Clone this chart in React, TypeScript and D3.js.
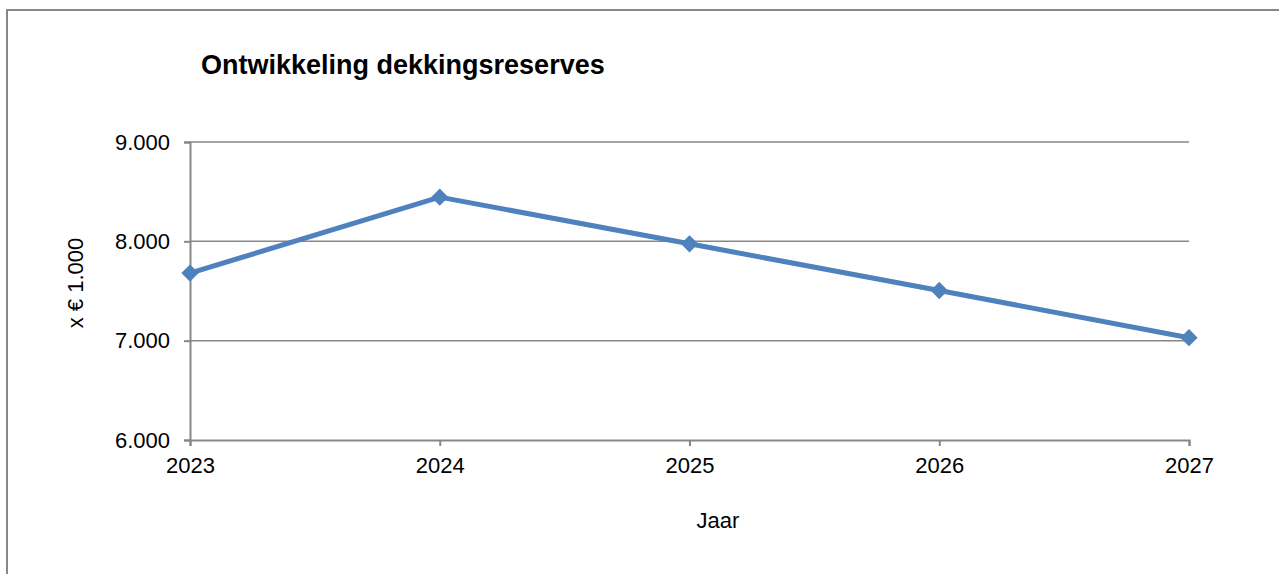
import { useEffect, useRef } from 'react'
import * as d3 from 'd3'

const years = ['2023', '2024', '2025', '2026', '2027']
const reserves = [7680, 8445, 7975, 7505, 7030]
const yTicks = [6000, 7000, 8000, 9000]

const title = 'Ontwikkeling dekkingsreserves'
const yLabel = 'x € 1.000'
const xLabel = 'Jaar'

export default function App() {
  const svgRef = useRef<SVGSVGElement>(null)

  useEffect(() => {
    if (!svgRef.current) return
    const width = 1279
    const height = 574
    const svg = d3.select(svgRef.current)
    svg.selectAll('*').remove()
    svg.attr('width', width).attr('height', height)

    const font = 'Liberation Sans, Arial, sans-serif'
    const grey = '#878787'

    // frame
    svg.append('rect')
      .attr('x', 7).attr('y', 10)
      .attr('width', 1290).attr('height', 600)
      .attr('fill', 'white')
      .attr('stroke', grey)
      .attr('stroke-width', 2)

    const x = d3.scalePoint<string>().domain(years).range([190, 1189])
    const y = d3.scaleLinear().domain([6000, 9000]).range([440, 142])

    // gridlines
    svg.append('g')
      .selectAll('line')
      .data(yTicks.slice(1))
      .enter().append('line')
      .attr('x1', 190).attr('x2', 1189)
      .attr('y1', d => y(d)).attr('y2', d => y(d))
      .attr('stroke', grey).attr('stroke-width', 1.5)

    // y axis
    const yAxis = svg.append('g')
      .attr('transform', 'translate(190,0)')
      .call(d3.axisLeft(y).tickValues(yTicks).tickSize(6).tickPadding(14)
        .tickFormat(d => d3.format(',')(d as number).replace(/,/g, '.')))
    yAxis.select('.domain').attr('stroke', grey).attr('stroke-width', 2)
    yAxis.selectAll('.tick line').attr('stroke', grey).attr('stroke-width', 2)
    yAxis.selectAll('text').attr('fill', '#000').style('font-size', '22px').style('font-family', font)

    // x axis
    const xAxis = svg.append('g')
      .attr('transform', 'translate(0,440)')
      .call(d3.axisBottom(x).tickSize(6).tickPadding(11))
    xAxis.select('.domain').attr('stroke', grey).attr('stroke-width', 2)
    xAxis.selectAll('.tick line').attr('stroke', grey).attr('stroke-width', 2)
    xAxis.selectAll('text').attr('fill', '#000').style('font-size', '22px').style('font-family', font)

    // line
    const line = d3.line<number>()
      .x((_, i) => x(years[i]) as number)
      .y(d => y(d))
    svg.append('path')
      .datum(reserves)
      .attr('d', line)
      .attr('fill', 'none')
      .attr('stroke', '#4F81BD')
      .attr('stroke-width', 5)
      .attr('stroke-linejoin', 'round')

    // diamond markers
    const sym = d3.symbol().type(d3.symbolDiamond2).size(190)
    svg.append('g')
      .selectAll('path')
      .data(reserves)
      .enter().append('path')
      .attr('d', sym)
      .attr('transform', (d, i) => `translate(${x(years[i])},${y(d)})`)
      .attr('fill', '#4F81BD')

    // title
    svg.append('text')
      .attr('x', 201).attr('y', 74)
      .style('font-family', font)
      .style('font-size', '27px')
      .style('font-weight', 'bold')
      .text(title)

    // axis titles
    svg.append('text')
      .attr('transform', 'translate(83,283) rotate(-90)')
      .attr('text-anchor', 'middle')
      .style('font-family', font)
      .style('font-size', '22px')
      .text(yLabel)

    svg.append('text')
      .attr('x', 718).attr('y', 528)
      .attr('text-anchor', 'middle')
      .style('font-family', font)
      .style('font-size', '22px')
      .text(xLabel)
  }, [])

  return (
    <svg ref={svgRef} style={{ position: 'absolute', left: 0, top: 0, display: 'block' }} />
  )
}
